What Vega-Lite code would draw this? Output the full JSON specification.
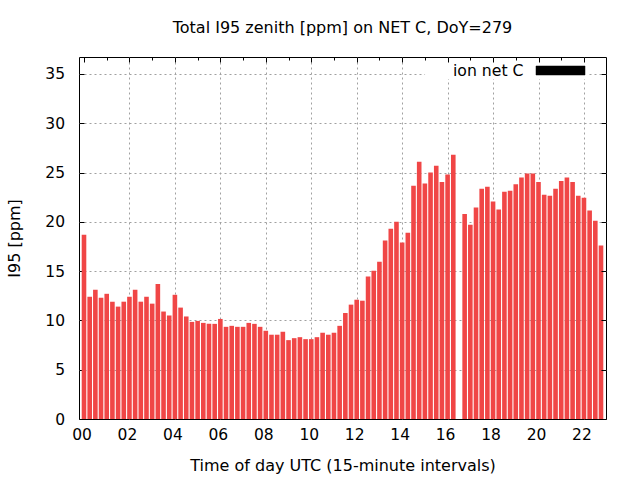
{
  "$schema": "https://vega.github.io/schema/vega-lite/v6.json",
  "width": 527,
  "height": 362,
  "autosize": {"type": "none"},
  "padding": {"left": 79, "top": 57, "right": 34, "bottom": 61},
  "background": "white",
  "config": {"view": {"stroke": "black", "strokeWidth": 1}, "font": "DejaVu Sans"},
  "title": {"text": "Total I95 zenith [ppm] on NET C, DoY=279", "fontSize": 16, "fontWeight": "normal", "font": "DejaVu Sans", "color": "black", "offset": 10},
  "data": {"values": [
    {"t": 0, "v": 18.7}, {"t": 0.25, "v": 12.4}, {"t": 0.5, "v": 13.1}, {"t": 0.75, "v": 12.3},
    {"t": 1, "v": 12.7}, {"t": 1.25, "v": 11.9}, {"t": 1.5, "v": 11.4}, {"t": 1.75, "v": 11.9},
    {"t": 2, "v": 12.4}, {"t": 2.25, "v": 13.1}, {"t": 2.5, "v": 11.9}, {"t": 2.75, "v": 12.4},
    {"t": 3, "v": 11.7}, {"t": 3.25, "v": 13.7}, {"t": 3.5, "v": 10.9}, {"t": 3.75, "v": 10.5},
    {"t": 4, "v": 12.6}, {"t": 4.25, "v": 11.3}, {"t": 4.5, "v": 10.4}, {"t": 4.75, "v": 9.85},
    {"t": 5, "v": 9.95}, {"t": 5.25, "v": 9.75}, {"t": 5.5, "v": 9.65}, {"t": 5.75, "v": 9.65},
    {"t": 6, "v": 10.15}, {"t": 6.25, "v": 9.35}, {"t": 6.5, "v": 9.45}, {"t": 6.75, "v": 9.35},
    {"t": 7, "v": 9.35}, {"t": 7.25, "v": 9.75}, {"t": 7.5, "v": 9.65}, {"t": 7.75, "v": 9.35},
    {"t": 8, "v": 8.95}, {"t": 8.25, "v": 8.55}, {"t": 8.5, "v": 8.55}, {"t": 8.75, "v": 8.85},
    {"t": 9, "v": 8.0}, {"t": 9.25, "v": 8.2}, {"t": 9.5, "v": 8.3}, {"t": 9.75, "v": 8.1},
    {"t": 10, "v": 8.1}, {"t": 10.25, "v": 8.3}, {"t": 10.5, "v": 8.75}, {"t": 10.75, "v": 8.55},
    {"t": 11, "v": 8.75}, {"t": 11.25, "v": 9.45}, {"t": 11.5, "v": 10.75}, {"t": 11.75, "v": 11.6},
    {"t": 12, "v": 12.1}, {"t": 12.25, "v": 12.0}, {"t": 12.5, "v": 14.45}, {"t": 12.75, "v": 15.05},
    {"t": 13, "v": 15.95}, {"t": 13.25, "v": 18.1}, {"t": 13.5, "v": 19.3}, {"t": 13.75, "v": 20.0},
    {"t": 14, "v": 17.9}, {"t": 14.25, "v": 18.9}, {"t": 14.5, "v": 23.65}, {"t": 14.75, "v": 26.1},
    {"t": 15, "v": 23.9}, {"t": 15.25, "v": 25.0}, {"t": 15.5, "v": 25.7}, {"t": 15.75, "v": 24.05},
    {"t": 16, "v": 24.8}, {"t": 16.25, "v": 26.8},
    {"t": 16.75, "v": 20.8}, {"t": 17, "v": 19.7}, {"t": 17.25, "v": 21.45}, {"t": 17.5, "v": 23.35},
    {"t": 17.75, "v": 23.55}, {"t": 18, "v": 22.05}, {"t": 18.25, "v": 21.25}, {"t": 18.5, "v": 23.05},
    {"t": 18.75, "v": 23.15}, {"t": 19, "v": 23.8}, {"t": 19.25, "v": 24.5}, {"t": 19.5, "v": 24.9},
    {"t": 19.75, "v": 24.9}, {"t": 20, "v": 24.05}, {"t": 20.25, "v": 22.75}, {"t": 20.5, "v": 22.65},
    {"t": 20.75, "v": 23.35}, {"t": 21, "v": 24.15}, {"t": 21.25, "v": 24.5}, {"t": 21.5, "v": 24.05},
    {"t": 21.75, "v": 22.65}, {"t": 22, "v": 22.45}, {"t": 22.25, "v": 21.15}, {"t": 22.5, "v": 20.1},
    {"t": 22.75, "v": 17.6}
  ]},
  "layer": [
    {
      "mark": {"type": "bar", "width": 4.6, "clip": true, "color": "#f04646"},
      "encoding": {
        "x": {
          "field": "t", "type": "quantitative",
          "scale": {"domain": [0, 22.75], "nice": false, "zero": false},
          "axis": {
            "orient": "bottom",
            "values": [0,1,2,3,4,5,6,7,8,9,10,11,12,13,14,15,16,17,18,19,20,21,22],
            "labelExpr": "datum.value % 2 === 0 ? (datum.value < 10 ? '0' + datum.value : '' + datum.value) : ''",
            "labelFontSize": 15.5, "labelColor": "black", "labelFont": "DejaVu Sans",
            "labelPadding": 13, "labelOffset": -2.5, "labelFlush": false, "labelOverlap": false,
            "tickColor": "black",
            "tickSize": {"condition": {"test": "datum.value % 2 === 0", "value": -5}, "value": -3},
            "grid": true, "gridColor": "#a0a0a0", "gridDash": [2, 3],
            "gridOpacity": {"condition": {"test": "datum.value % 2 === 0 && datum.value > 0", "value": 1}, "value": 0},
            "domain": false,
            "title": "Time of day UTC (15-minute intervals)",
            "titleFontSize": 16, "titleFontWeight": "normal", "titleColor": "black", "titleFont": "DejaVu Sans",
            "titleY": 46, "titleBaseline": "middle"
          }
        },
        "y": {
          "field": "v", "type": "quantitative",
          "scale": {"domain": [0, 36.72], "nice": false},
          "axis": {
            "orient": "left",
            "values": [0, 5, 10, 15, 20, 25, 30, 35],
            "labelFontSize": 15.5, "labelColor": "black", "labelFont": "DejaVu Sans",
            "labelPadding": 19.5,
            "tickColor": "black", "tickSize": -5,
            "grid": true, "gridColor": "#a0a0a0", "gridDash": [2, 3],
            "gridOpacity": {"condition": {"test": "datum.value > 0", "value": 1}, "value": 0},
            "domain": false,
            "title": "I95 [ppm]",
            "titleFontSize": 16, "titleFontWeight": "normal", "titleColor": "black", "titleFont": "DejaVu Sans",
            "titleX": -65, "titleBaseline": "middle"
          }
        }
      }
    },
    {
      "mark": {"type": "rect", "color": "white"},
      "encoding": {
        "x": {"datum": 15.04, "type": "quantitative", "scale": {"domain": [0, 22.75], "nice": false, "zero": false}, "axis": null},
        "x2": {"datum": 22.16},
        "y": {"datum": 36.62, "type": "quantitative", "scale": {"domain": [0, 36.72], "nice": false}, "axis": null},
        "y2": {"datum": 34.52}
      }
    },
    {
      "mark": {"type": "point", "filled": true, "size": 0},
      "encoding": {
        "x": {
          "field": "t", "type": "quantitative",
          "axis": {
            "orient": "top", "zindex": 1,
            "values": [0,1,2,3,4,5,6,7,8,9,10,11,12,13,14,15,16,17,18,19,20,21,22],
            "labels": false, "grid": false, "domain": false, "title": null,
            "tickColor": "black",
            "tickSize": {"condition": {"test": "datum.value % 2 === 0", "value": -5}, "value": -3}
          }
        },
        "y": {
          "field": "v", "type": "quantitative",
          "axis": {
            "orient": "right", "zindex": 1,
            "values": [0, 5, 10, 15, 20, 25, 30, 35],
            "labels": false, "grid": false, "domain": false, "title": null,
            "tickColor": "black", "tickSize": -5
          }
        },
        "color": {
          "datum": "ion net C", "type": "nominal",
          "scale": {"range": ["black"]},
          "legend": {
            "title": null, "orient": "none", "legendX": 456.5, "legendY": -11.5, "padding": 0,
            "symbolType": "M-1,-0.1837L1,-0.1837L1,0.1837L-1,0.1837Z", "symbolSize": 2401,
            "symbolStrokeWidth": 0.5, "symbolStrokeColor": "black", "symbolOpacity": 1,
            "labelFont": "DejaVu Sans", "labelFontSize": 15.7, "labelColor": "black",
            "labelAlign": "right", "labelOffset": -62
          }
        }
      }
    }
  ],
  "resolve": {"axis": {"x": "independent", "y": "independent"}}
}
